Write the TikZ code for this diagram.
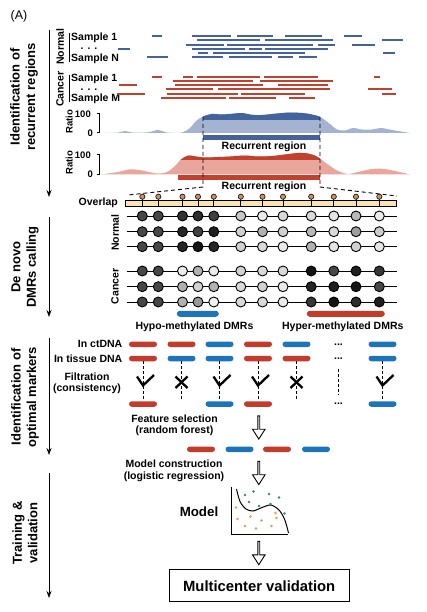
\documentclass[tikz,border=0pt]{standalone}
\usepackage{fontspec}
\setmainfont{Liberation Sans}
\usetikzlibrary{arrows.meta,shapes.arrows,shapes.misc}

\definecolor{nblue}{HTML}{44629C}
\definecolor{cred}{HTML}{C2402E}
\definecolor{bluelight}{HTML}{A3B3D1}
\definecolor{redlight}{HTML}{E9A69C}
\definecolor{pillblue}{HTML}{1C74BB}
\definecolor{pillred}{HTML}{C23B2B}
\definecolor{overlapfill}{HTML}{F8E3B3}
\definecolor{pinfill}{HTML}{C8906C}
\definecolor{dotgreen}{HTML}{2F8C6C}
\definecolor{dotorange}{HTML}{E29A4C}

\begin{document}
\begin{tikzpicture}[x=1pt,y=-1pt,
    lbl/.style={font=\bfseries\fontsize{10.5}{11.5}\selectfont,inner sep=1pt},
    rlbl/.style={font=\bfseries\fontsize{9.5}{11}\selectfont,inner sep=1pt},
    steplbl/.style={font=\bfseries\fontsize{13}{15.5}\selectfont,rotate=90,align=center},
    stage/.style={-{Stealth[length=7pt,width=5pt]},line width=0.9pt},
    nread/.style={nblue,line width=2pt},
    cread/.style={cred,line width=2pt},
    pill/.style={rounded rectangle,minimum width=28pt,minimum height=5.5pt,inner sep=0pt},
    cpg/.style={circle,draw,line width=0.9pt,minimum size=10pt,inner sep=0pt},
    filt/.style={dash pattern=on 3pt off 2pt,line width=0.8pt},
    blockarrow/.style={single arrow,draw,fill=white,line width=0.9pt,shape border rotate=270,
        minimum height=23.3pt,minimum width=12.5pt,single arrow head extend=2.5pt,
        single arrow tip angle=65,inner sep=0pt}]
    \useasboundingbox (0,0) rectangle (426,612);

    \node[font=\fontsize{12.5}{14}\selectfont] (tag) at (19,16) {(A)};

    % stages
    \foreach \a/\b [count=\i] in {30/197,217/317,338/455,473/598}{
        \coordinate (st\i) at (49,\a);
        \coordinate (sb\i) at (49,\b);
        \draw[stage] (st\i) -- (sb\i);}
    \node[steplbl] (stage1) at (24,97) {Identification of\\recurrent regions};
    \node[steplbl] (stage2) at (25,267) {De novo\\DMRs calling};
    \node[steplbl] (stage3) at (25,397) {Identification of\\optimal markers};
    \node[steplbl] (stage4) at (25,533) {Training \&\\validation};

    % reads
    \node[lbl,rotate=90] (normal) at (60,46.7) {Normal};
    \node[lbl,rotate=90] (cancer) at (60,89.2) {Cancer};
    \draw[line width=1pt] (69,33.3) -- (69,61.7);
    \draw[line width=1pt] (69,75) -- (69,101.7);
    \node[lbl,anchor=west] (ns1) at (70,37.5) {Sample 1};
    \node[lbl,inner sep=0pt] (nsd) at (89,48.5) {. . .};
    \node[lbl,anchor=west] (nsn) at (70,59.2) {Sample N};
    \node[lbl,anchor=west] (cs1) at (70,78.8) {Sample 1};
    \node[lbl,inner sep=0pt] (csd) at (89,89.5) {. . .};
    \node[lbl,anchor=west] (csm) at (70,99.2) {Sample M};
    \foreach \y/\a/\b in {36/152/162,36/192/231,36/237/273,36/285/322,36/344/362,
        40.5/197/260,40.5/265/333,40.5/382/403,
        45/186/224,45/227/313,45/318/335,45/352/375,
        49.5/118/130,49.5/192/245,49.5/249/262,49.5/265/328,
        53.5/198/208,53.5/213/305,53.5/383/395,
        57.5/147/168,57.5/192/223,57.5/229/272,57.5/278/293,57.5/299/317}
        \draw[nread] (\a,\y) -- (\b,\y);
    \foreach \y/\a/\b in {77.3/152/162,77.3/183/193,77.3/197/260,77.3/264/318,77.3/374/380,
        81.3/173/253,81.3/260/333,
        85.3/119/137,85.3/175/263,85.3/278/328,
        89.3/166/213,89.3/218/330,89.3/368/392,
        93.7/117/145,93.7/167/238,93.7/241/305,93.7/382/396,
        98/161/226,98/229/276,98/289/315}
        \draw[cread] (\a,\y) -- (\b,\y);

    % ratio profiles
    \begin{scope}
        \clip plot[smooth] coordinates {(101,133) (118,132.6) (125,131) (133,132.6) (148,132.3) (158,130)
            (167,132.5) (182,132.5) (190,128) (196,121) (203,116.5) (212,114) (222,114.5) (233,113.7)
            (242,113) (252,114.8) (262,115) (275,113.7) (290,112.5) (305,113.3) (316,115.5) (322,118)
            (330,124) (337,129.5) (345,130.5) (353,128) (362,129.5) (372,129.5) (381,128) (392,130) (410,133)} -- cycle;
        \fill[bluelight] (100,105) rectangle (412,134);
        \fill[nblue] (203,105) rectangle (320,120.3);
    \end{scope}
    \begin{scope}
        \clip plot[smooth] coordinates {(101,174.5) (118,172) (130,169.3) (142,170.5) (157,173.5) (167,172)
            (175,166) (181,159.5) (188,155.5) (196,156.5) (205,157.5) (218,157) (230,156.5) (245,155.5)
            (258,156.5) (272,156) (285,154.5) (298,153) (308,153.5) (316,156) (322,160) (330,166)
            (338,171) (348,174) (360,171.5) (372,169) (383,168.8) (395,171) (410,174.5)} -- cycle;
        \fill[redlight] (100,145) rectangle (412,175.5);
        \fill[cred] (180,145) rectangle (320,160.3);
    \end{scope}
    \draw[line width=1pt] (96.5,113.3) -- (99.5,113.3) -- (99.5,133) -- (96.5,133);
    \draw[line width=1pt] (96.5,154.3) -- (99.5,154.3) -- (99.5,174.5) -- (96.5,174.5);
    \node[rlbl,rotate=90] (ratio1) at (69.3,121.7) {Ratio};
    \node[rlbl,anchor=east] (top1) at (92,114.3) {100};
    \node[rlbl,anchor=east] (low1) at (94,132.8) {0};
    \node[rlbl,rotate=90] (ratio2) at (69.3,162.5) {Ratio};
    \node[rlbl,anchor=east] (top2) at (92,155) {100};
    \node[rlbl,anchor=east] (low2) at (94,173.8) {0};
    \draw[nblue,line width=5pt] (203,137.5) -- (320,137.5);
    \draw[cred,line width=5pt] (178,177.7) -- (320,177.7);
    \node[lbl] (rec1) at (264,146.7) {Recurrent region};
    \node[lbl] (rec2) at (264,186.7) {Recurrent region};
    \draw[dash pattern=on 4pt off 3pt,line width=0.9pt] (203,117) -- (203,187) -- (128,195);
    \draw[dash pattern=on 4pt off 3pt,line width=0.9pt] (320,117) -- (320,187) -- (397,196);

    % overlap and CpG sites
    \node[lbl,anchor=east] (overlap) at (119,203) {Overlap};
    \draw[fill=overlapfill,line width=0.8pt] (125,200.7) rectangle (396,206);
    \def\cpgx{{142.3,158.3,182.5,198,213.8,240.8,262.5,283,311.2,333.8,356,379.3}}
    \foreach \c in {1,...,12}{
        \pgfmathsetmacro\xc{\cpgx[\c-1]}
        \draw[line width=0.8pt] (\xc,196.7) -- (\xc,206);
        \draw[fill=pinfill,draw=black!80!brown,line width=0.7pt] (\xc,196.7) circle (2.6);}
    \foreach \y/\shades [count=\r] in {216/{72,72,80,82,75,22,8,15,15,10,28,8},
        231.7/{72,72,85,75,88,18,30,18,28,15,38,20},
        246.7/{72,72,85,92,85,18,15,8,30,10,18,10},
        271/{72,72,8,30,8,18,15,15,92,72,88,78},
        286.7/{72,72,30,18,30,15,18,8,85,88,92,72},
        302/{72,72,30,40,6,15,15,8,78,92,82,88}}{
        \draw[line width=1pt] (127,\y) -- (397,\y);
        \foreach \s [count=\c] in \shades{
            \pgfmathsetmacro\xc{\cpgx[\c-1]}
            \node[cpg,fill=black!\s] (g\r-\c) at (\xc,\y) {};}}
    \node[lbl,rotate=90] (gnormal) at (115,232.5) {Normal};
    \node[lbl,rotate=90] (gcancer) at (115,286.5) {Cancer};
    \node[pill,minimum width=42pt,minimum height=6pt,fill=pillblue] (hypo) at (197.8,313.8) {};
    \node[pill,minimum width=78pt,minimum height=6pt,fill=pillred] (hyper) at (345.8,313.8) {};
    \node[lbl] (hypot) at (194.5,326.7) {Hypo-methylated DMRs};
    \node[lbl] (hypert) at (342.8,326.7) {Hyper-methylated DMRs};

    % markers
    \node[lbl,anchor=east] (ctdna) at (123.5,344.3) {In ctDNA};
    \node[lbl,anchor=east] (tissue) at (123.5,358.5) {In tissue DNA};
    \node[lbl,align=center] (filtr) at (87,383.5) {Filtration\\(consistency)};
    \foreach \x/\c [count=\i] in {143/pillred,181.5/pillred,219.5/pillblue,258/pillred,296.5/pillblue,382.5/pillblue}
        \node[pill,fill=\c] (ct\i) at (\x,344.3) {};
    \foreach \x/\c [count=\i] in {143/pillred,181.5/pillblue,219.5/pillblue,258/pillred,296.5/pillred,382.5/pillblue}
        \node[pill,fill=\c] (ts\i) at (\x,358.5) {};
    \node[pill,fill=pillred] (kp1) at (143,404) {};
    \coordinate (kp2) at (181.5,400);
    \node[pill,fill=pillblue] (kp3) at (219.5,404) {};
    \node[pill,fill=pillred] (kp4) at (258,404) {};
    \coordinate (kp5) at (296.5,400);
    \node[pill,fill=pillblue] (kp6) at (382.5,404) {};
    \foreach \i in {1,...,6} \draw[filt] (ts\i.south) -- (kp\i.north);
    \node[lbl] (dt1) at (338.5,344.3) {...};
    \node[lbl] (dt2) at (338.5,358.5) {...};
    \node[lbl] (dt3) at (338.5,404) {...};
    \draw[filt,shorten <=9pt,shorten >=7pt] (dt2) -- (dt3);
    \foreach \x in {143,219.5,258,382.5}
        \draw[line width=2.3pt] (\x-6,376.5) -- (\x,385.5) -- (\x+11,375);
    \foreach \x in {181.5,296.5}{
        \draw[line width=2.3pt] (\x-6,376.5) -- (\x+6,388);
        \draw[line width=2.3pt] (\x-6,388) -- (\x+6,376.5);}

    \node[blockarrow] (fa1) at (258.8,426.7) {};
    \node[lbl,align=center] (fsel) at (174.5,425.5) {Feature selection\\(random forest)};
    \foreach \x/\c [count=\i] in {201/pillred,239.5/pillblue,277/pillred,316/pillblue}
        \node[pill,fill=\c] (rf\i) at (\x,449.3) {};
    \node[blockarrow] (fa2) at (258.8,472.2) {};
    \node[lbl,align=center] (mcon) at (174,471) {Model construction\\(logistic regression)};

    % model
    \draw[line width=1pt] (231.7,487) -- (231.7,534.3) -- (288,534.3);
    \draw[line width=1pt] plot[smooth] coordinates {(236.5,489) (240,501.5) (246,509) (253,511)
        (262,507.5) (271,505) (279,510) (284,518) (287,527) (288.5,533)};
    \foreach \p in {(245,495),(253.5,491.5),(269,494),(279,497.5),(249,502),(259,506),(270.5,504),(284.5,513.5)}
        \fill[dotgreen] \p circle (1.3);
    \foreach \p in {(236,507.5),(237.5,519),(250.5,516.5),(261.5,520.5),(276.5,518),(245,526),(256,528.5),(271.5,526),(275.5,513)}
        \fill[dotorange] \p circle (1.3);
    \node[font=\bfseries\fontsize{13.3}{15}\selectfont] (model) at (199,511.7) {Model};
    \node[blockarrow] (fa3) at (258.8,552.3) {};
    \node[draw,line width=1pt,minimum width=179.7pt,minimum height=31.7pt,
        font=\bfseries\fontsize{14.8}{17}\selectfont] (valid) at (259.2,585.8) {Multicenter validation};
\end{tikzpicture}
\end{document}
